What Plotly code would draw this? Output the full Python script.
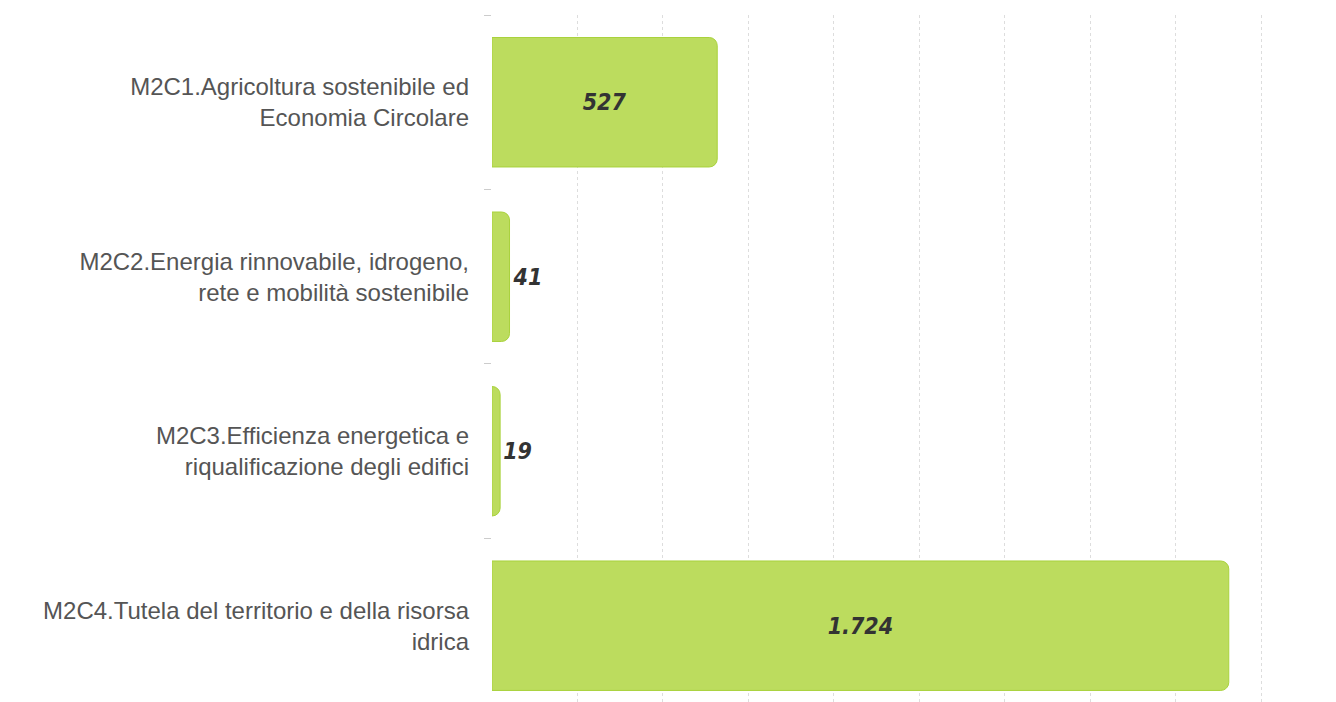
import plotly.graph_objects as go

categories = [
    "M2C1.Agricoltura sostenibile ed<br>Economia Circolare",
    "M2C2.Energia rinnovabile, idrogeno,<br>rete e mobilità sostenibile",
    "M2C3.Efficienza energetica e<br>riqualificazione degli edifici",
    "M2C4.Tutela del territorio e della risorsa<br>idrica",
]
values = [527, 41, 19, 1724]
value_labels = ["527", "41", "19", "1.724"]
text_positions = ["inside", "outside", "outside", "inside"]

fig = go.Figure(
    go.Bar(
        x=values,
        y=categories,
        orientation="h",
        text=value_labels,
        textposition=text_positions,
        insidetextanchor="middle",
        textangle=0,
        textfont=dict(family="DejaVu Sans Condensed, DejaVu Sans", size=23, color="#333333",
                      weight="bold", style="italic"),
        marker=dict(color="#bcdc5e", cornerradius=8,
                    line=dict(color="#a9d23c", width=1)),
        cliponaxis=False,
        hoverinfo="skip",
    )
)

fig.update_layout(
    width=1336,
    height=702,
    margin=dict(l=484, r=40, t=7, b=0),
    paper_bgcolor="white",
    plot_bgcolor="white",
    showlegend=False,
    bargap=0.258,
)

fig.update_xaxes(
    range=[0, 1900],
    dtick=200,
    showgrid=True,
    gridcolor="#dddddd",
    griddash="dot",
    gridwidth=1,
    zeroline=False,
    showticklabels=False,
    showline=False,
)

fig.update_yaxes(
    type="category",
    range=[3.483, -0.5],
    tickson="boundaries",
    ticks="outside",
    ticklen=7,
    tickcolor="#cccccc",
    tickwidth=1,
    ticklabelstandoff=22,
    tickfont=dict(family="Liberation Sans", size=24, color="#555555"),
    showgrid=False,
    showline=False,
    zeroline=False,
)

fig.write_html("out.html")
